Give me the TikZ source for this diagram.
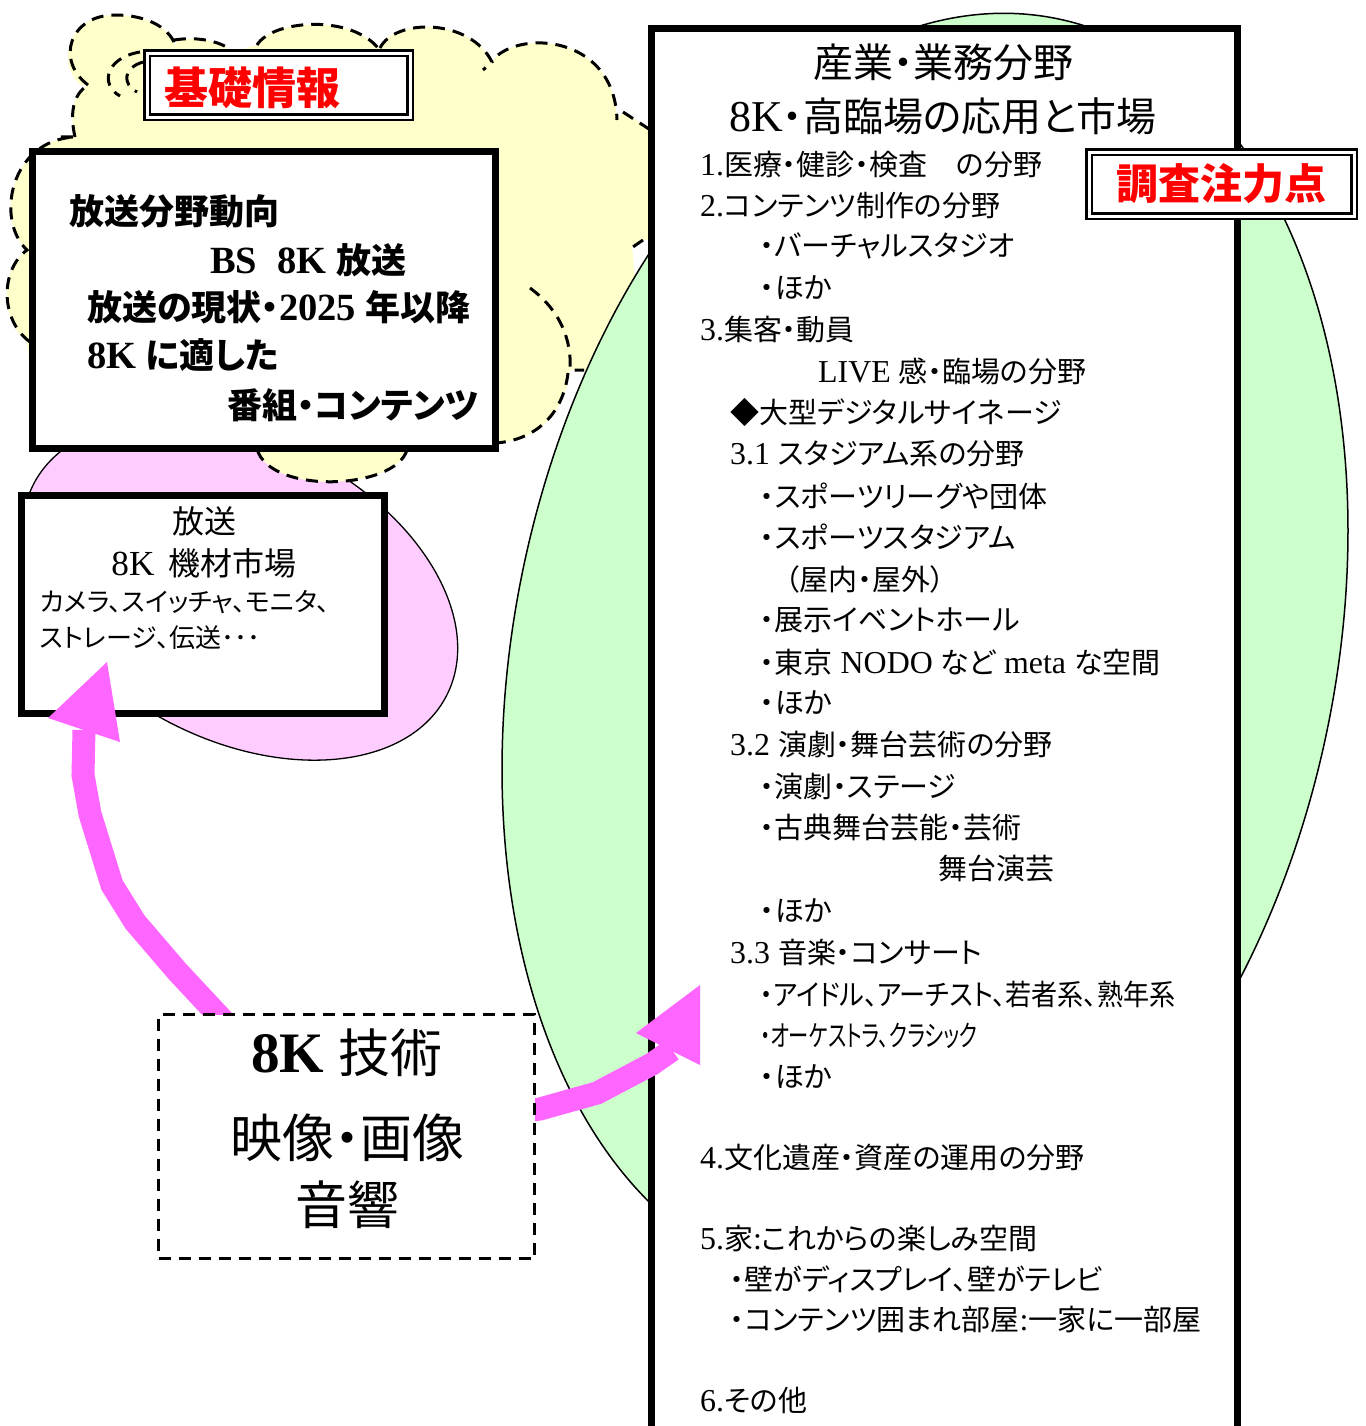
\documentclass[tikz,border=0pt]{standalone}
\usepackage{fontspec}
\setmainfont{Liberation Serif}[Scale=1.1]
\newfontfamily\jpfont[RawFeature=+palt]{Noto Sans CJK JP}
\XeTeXinterchartokenstate=1
\newcount\cjkcc
\cjkcc="2E80
\loop\ifnum\cjkcc<"A000 \XeTeXcharclass\cjkcc=7 \advance\cjkcc by 1 \repeat
\cjkcc="FF00
\loop\ifnum\cjkcc<"FFF0 \XeTeXcharclass\cjkcc=7 \advance\cjkcc by 1 \repeat
\cjkcc="25A0
\loop\ifnum\cjkcc<"2600 \XeTeXcharclass\cjkcc=7 \advance\cjkcc by 1 \repeat
\XeTeXinterchartoks 0 7 = {\jpfont}
\XeTeXinterchartoks 4095 7 = {\jpfont}
\XeTeXinterchartoks 7 0 = {\rmfamily}
\XeTeXinterchartoks 7 4095 = {\rmfamily}
\definecolor{cloudY}{HTML}{FFFFCC}
\definecolor{pinkE}{HTML}{FFCCFF}
\definecolor{greenE}{HTML}{CCFFCC}
\definecolor{arrowP}{HTML}{FF66FF}
\tikzset{
  thickbox/.style={draw, line width=7pt, fill=white, inner sep=0pt},
  dblbox/.style={draw, line width=2.5pt, double=white, double distance=3pt, fill=white, inner sep=0pt},
  redtxt/.style={text=red, inner sep=0pt, font=\fontsize{44}{50}\selectfont\bfseries},
  item/.style={anchor=west, inner sep=0pt, font=\fontsize{29}{34}\selectfont},
  bt/.style={anchor=west, inner sep=0pt, font=\fontsize{35}{40}\selectfont\bfseries},
  cloudline/.style={draw=black, line width=3pt, dash pattern=on 12pt off 8pt},
  shaft/.style={draw=arrowP, line width=23pt, line join=miter},
  headtri/.style={fill=arrowP},
}
\begin{document}
\begin{tikzpicture}[x=1pt,y=-1pt]
\useasboundingbox (0,0) rectangle (1365,1426);
\clip (0,0) rectangle (1365,1426);

% pink ellipse
\begin{scope}[shift={(240,590)}, rotate=-27]
  \draw[fill=pinkE, line width=1.3pt] (0,0) ellipse [x radius=232pt, y radius=150pt];
\end{scope}

% yellow cloud
\path[fill=cloudY] (80,85)
  .. controls (55,60) and (70,15) .. (115,15)
  .. controls (150,15) and (172,30) .. (176,48)
  -- (176,40)
  .. controls (200,36) and (222,42) .. (232,52)
  -- (257,45)
  .. controls (272,20) and (350,14) .. (378,48)
  .. controls (395,18) and (470,18) .. (492,62)
  -- (498,55)
  .. controls (530,30) and (615,40) .. (617,120)
  -- (623,112) -- (660,135) -- (660,240) -- (643,240) -- (632,247)
  -- (640,330) -- (600,372) -- (582,370) -- (570,370)
  .. controls (565,415) and (535,440) .. (500,442)
  -- (407,450)
  .. controls (395,490) and (270,495) .. (257,449)
  -- (40,440) -- (27,342)
  .. controls (0,320) and (0,270) .. (27,250)
  .. controls (-5,220) and (10,140) .. (75,137)
  .. controls (70,115) and (72,95) .. (88,85) -- cycle;
\draw[cloudline] (88,85)
  .. controls (55,60) and (70,15) .. (115,15)
  .. controls (150,15) and (172,30) .. (176,48);
\draw[cloudline] (174,40) .. controls (200,36) and (222,42) .. (234,52);
\draw[cloudline] (257,45) .. controls (272,20) and (350,14) .. (378,48);
\draw[cloudline] (380,48) .. controls (395,18) and (470,18) .. (492,62) -- (483,70);
\draw[cloudline] (498,55) .. controls (530,30) and (615,40) .. (617,120);
\draw[cloudline] (623,112) -- (655,133);
\draw[cloudline] (643,240) -- (630,249);
\draw[cloudline] (530,288) .. controls (560,310) and (572,340) .. (570,370) -- (584,370);
\draw[cloudline] (568,373) .. controls (563,415) and (535,440) .. (496,443);
\draw[cloudline] (407,450) .. controls (395,490) and (270,495) .. (257,449);
\draw[cloudline] (30,342) .. controls (0,320) and (0,270) .. (27,250)
  .. controls (-5,220) and (10,140) .. (75,137) -- (58,137);
\draw[cloudline] (75,137) .. controls (70,115) and (72,95) .. (88,85);
\draw[cloudline] (140,52) .. controls (105,58) and (100,85) .. (120,96);
\draw[cloudline] (143,62) .. controls (123,68) and (122,84) .. (137,92);

% green ellipse
\begin{scope}[shift={(925,650)}, rotate=-12]
  \draw[fill=greenE, line width=1.5pt] (0,0) ellipse [x radius=410pt, y radius=645pt];
\end{scope}

% left boxes
\node[thickbox, minimum width=463pt, minimum height=297pt] (trend) at (264,300) {};
\node[bt] (h1) at (69,211) {放送分野動向};
\node[bt] (h2) at (210,260) {BS\hspace{20pt}8K 放送};
\node[bt] (h3) at (87,307) {放送の現状・2025 年以降};
\node[bt] (h4) at (87,355) {8K に適した};
\node[bt] (h5) at (227,405) {番組・コンテンツ};

\node[dblbox, minimum width=263pt, minimum height=64pt] (kiso) at (278.5,85.5) {};
\node[redtxt] (kisotxt) at (252,88) {基礎情報};

\node[thickbox, minimum width=363pt, minimum height=218pt] (hoso) at (203,604.5) {};
\node[inner sep=0pt, font=\fontsize{32}{36}\selectfont] (hs1) at (204,521) {放送};
\node[inner sep=0pt, font=\fontsize{32}{36}\selectfont] (hs2) at (204,563) {8K\hspace{14pt}機材市場};
\node[anchor=west, inner sep=0pt, font=\fontsize{26}{30}\selectfont] (hs3) at (40,602) {カメラ、スイッチャ、モニタ、};
\node[anchor=west, inner sep=0pt, font=\fontsize{26}{30}\selectfont] (hs4) at (40,638) {ストレージ、伝送･･･};

% main right box
\node[fill=white, inner sep=0pt, minimum width=585pt, minimum height=1420pt] (main) at (944.5,738.5) {};
\draw[line width=7pt] (main.south west) -- (main.north west) -- (main.north east) -- (main.south east);

\node[inner sep=0pt, font=\fontsize{40}{46}\selectfont] (mt1) at (943,62) {産業・業務分野};
\node[inner sep=0pt, font=\fontsize{40}{46}\selectfont] (mt2) at (943,116) {8K・高臨場の応用と市場};

\node[item] (i1) at (700,165) {1.医療・健診・検査　の分野};
\node[item] (i2) at (700,206) {2.コンテンツ制作の分野};
\node[item] (i3) at (760,246) {・バーチャルスタジオ};
\node[item] (i4) at (760,288) {・ほか};
\node[item] (i5) at (700,330) {3.集客・動員};
\node[item] (i6) at (818,371) {LIVE 感・臨場の分野};
\node[item] (i7) at (730,412) {◆大型デジタルサイネージ};
\node[item] (i8) at (730,454) {3.1 スタジアム系の分野};
\node[item] (i9) at (760,496) {・スポーツリーグや団体};
\node[item] (i10) at (760,537) {・スポーツスタジアム};
\node[item] (i11) at (785,579) {（屋内・屋外）};
\node[item] (i12) at (760,620) {・展示イベントホール};
\node[item] (i13) at (760,662) {・東京 NODO など meta な空間};
\node[item] (i14) at (760,703) {・ほか};
\node[item] (i15) at (730,745) {3.2 演劇・舞台芸術の分野};
\node[item] (i16) at (760,787) {・演劇・ステージ};
\node[item] (i17) at (760,828) {・古典舞台芸能・芸術};
\node[item] (i18) at (938,869) {舞台演芸};
\node[item] (i19) at (760,911) {・ほか};
\node[item] (i20) at (730,952) {3.3 音楽・コンサート};
\node[item] (i21) at (760,994) {\scalebox{0.9}[1]{・アイドル、アーチスト、若者系、熟年系}};
\node[item] (i22) at (760,1036) {\scalebox{0.7}[1]{・オーケストラ、クラシック}};
\node[item] (i23) at (760,1077) {・ほか};
\node[item] (i24) at (700,1158) {4.文化遺産・資産の運用の分野};
\node[item] (i25) at (700,1238) {5.家:これからの楽しみ空間};
\node[item] (i26) at (730,1279) {・壁がディスプレイ、壁がテレビ};
\node[item] (i27) at (730,1320) {・コンテンツ囲まれ部屋:一家に一部屋};
\node[item] (i28) at (700,1400) {6.その他};

\node[dblbox, minimum width=265pt, minimum height=64pt, text=red, font=\fontsize{42}{48}\selectfont\bfseries] (focus) at (1221.5,184) {調査注力点};

% arrows
\coordinate (a1s) at (232,1030);
\coordinate (a1e) at (84,730);
\draw[shaft] (a1s) -- (177,971) -- (135,922) -- (112,885) -- (90,814) -- (83,775) -- (a1e);
\fill[headtri] (48,718) -- (107,662) -- (120,742) -- cycle;

\coordinate (a2s) at (500,1114);
\coordinate (a2e) at (672,1050);
\draw[shaft] (a2s) -- (540,1109) -- (597,1093) -- (652,1064) -- (a2e);
\fill[headtri] (636,1033) -- (700,985) -- (700,1065) -- cycle;

% 8K technology dashed box
\node[draw, fill=white, line width=3pt, dash pattern=on 12pt off 8pt, minimum width=376pt, minimum height=244pt, inner sep=0pt] (tech) at (346.5,1136.5) {};
\node[inner sep=0pt, font=\fontsize{52}{58}\selectfont] (t1) at (347,1053) {{\bfseries 8K} 技術};
\node[inner sep=0pt, font=\fontsize{52}{58}\selectfont] (t2) at (347,1138) {映像・画像};
\node[inner sep=0pt, font=\fontsize{52}{58}\selectfont] (t3) at (347,1205) {音響};
\end{tikzpicture}
\end{document}
